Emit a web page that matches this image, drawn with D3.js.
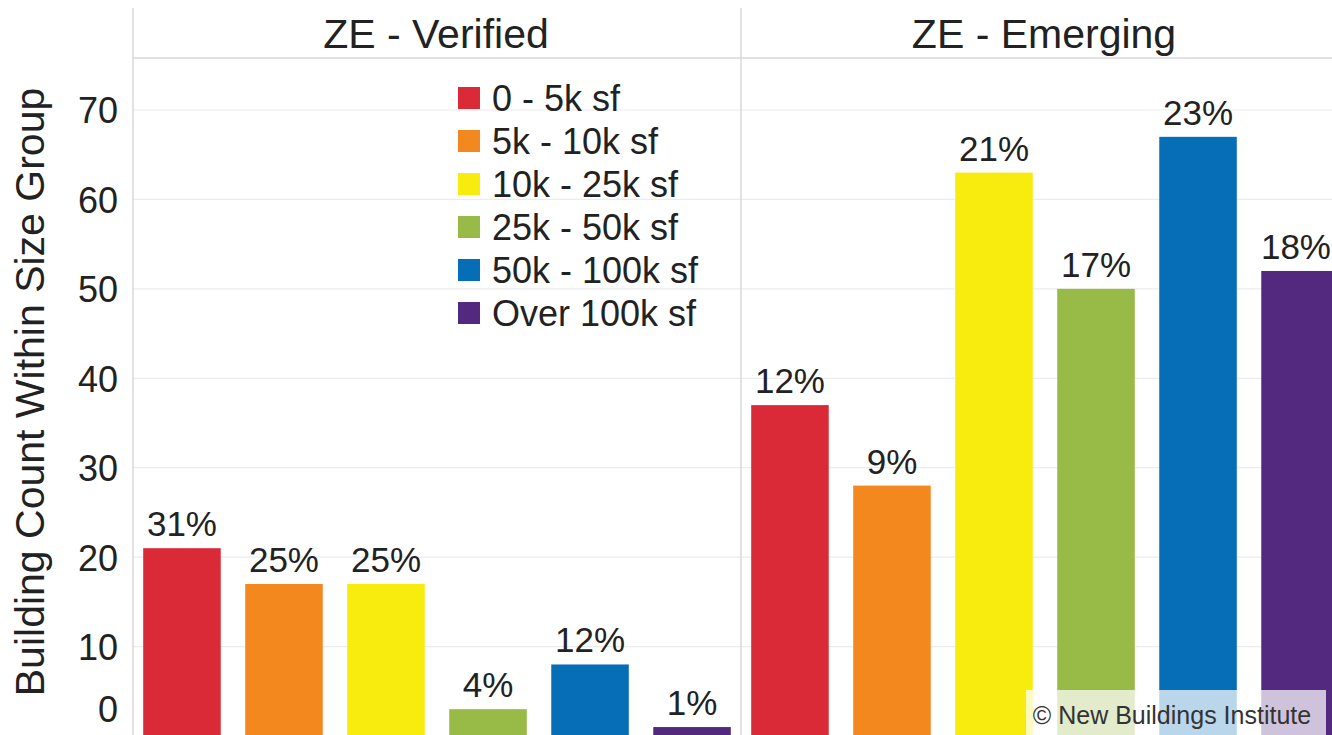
<!DOCTYPE html>
<html><head><meta charset="utf-8">
<script src="https://cdn.jsdelivr.net/npm/d3@7"></script>
<style>
body{margin:0;background:#fff;}
text{font-family:"Liberation Sans",Arial,Helvetica,sans-serif;}
</style></head>
<body><svg id="c" width="1332" height="735"></svg>
<script>
const panels = ["ZE - Verified", "ZE - Emerging"];
const categories = ["0 - 5k sf","5k - 10k sf","10k - 25k sf","25k - 50k sf","50k - 100k sf","Over 100k sf"];
const colors = ["#da2a37","#f3881f","#f8ec0e","#98ba47","#066eb7","#53287f"];
const verifiedValues = [21, 17, 17, 3, 8, 1];
const emergingValues = [37, 28, 63, 50, 67, 52];
const verifiedLabels = ["31%","25%","25%","4%","12%","1%"];
const emergingLabels = ["12%","9%","21%","17%","23%","18%"];
const yTicks = [0,10,20,30,40,50,60,70];

(function(){
const W = 1332;
const svg = d3.select("#c");
const leftX = 133, panelW = 608, headerY = 58, baseY = 736;
const y = d3.scaleLinear().domain([0,70]).range([baseY, 110]);
const px = d3.scaleBand().domain(panels).range([leftX, leftX + 2*panelW]);
const x = d3.scaleBand().domain(categories).range([0, panelW]).paddingInner(0.24).paddingOuter(0.1);
const color = d3.scaleOrdinal().domain(categories).range(colors);

// gridlines
svg.append("g").selectAll("line").data(yTicks.filter(d=>d>0)).join("line")
  .attr("x1", leftX).attr("x2", W)
  .attr("y1", d=>y(d)).attr("y2", d=>y(d))
  .attr("stroke","#ececec").attr("stroke-width",1.2);

// header line
svg.append("line").attr("x1",leftX).attr("x2",W).attr("y1",headerY).attr("y2",headerY)
  .attr("stroke","#d8d8d8").attr("stroke-width",1.5);
// vertical dividers
[leftX, leftX+panelW].forEach(xx=>{
  svg.append("line").attr("x1",xx).attr("x2",xx).attr("y1",8).attr("y2",735)
    .attr("stroke","#d8d8d8").attr("stroke-width",1.5);
});

// panel titles
svg.append("g").selectAll("text").data(panels).join("text")
  .attr("x", d=>px(d)+panelW/2 - 1).attr("y", 48)
  .attr("text-anchor","middle").attr("font-size",41).attr("fill","#222").text(d=>d);

// y axis
const yAxis = d3.axisLeft(y).tickValues(yTicks).tickSize(0).tickPadding(15);
const ga = svg.append("g").attr("transform",`translate(${leftX},0)`).call(yAxis);
ga.select(".domain").remove();
ga.selectAll("text").attr("font-size",36).attr("fill","#222")
  .attr("font-family","Liberation Sans, Arial, sans-serif")
  .attr("dy", d=> d===0 ? "-0.4em" : "0.36em");

svg.append("text").attr("transform","translate(44,392) rotate(-90)")
  .attr("text-anchor","middle").attr("font-size",41).attr("fill","#222")
  .text("Building Count Within Size Group");

// bars
const data = [
  {panel:panels[0], values:verifiedValues, labels:verifiedLabels},
  {panel:panels[1], values:emergingValues, labels:emergingLabels}
];
data.forEach(p=>{
  const ox = px(p.panel);
  const g = svg.append("g").attr("transform",`translate(${ox},0)`);
  const rows = categories.map((c,i)=>({c, v:p.values[i], l:p.labels[i]}));
  g.selectAll("rect").data(rows).join("rect")
    .attr("x", d=>x(d.c)).attr("width", x.bandwidth())
    .attr("y", d=>y(d.v)).attr("height", d=>y(0)-y(d.v))
    .attr("fill", d=>color(d.c));
  g.selectAll("text.lab").data(rows).join("text").attr("class","lab")
    .attr("x", d=>x(d.c)+x.bandwidth()/2).attr("y", d=>y(d.v)-12)
    .attr("text-anchor","middle").attr("font-size",35).attr("fill","#222")
    .text(d=>d.l)
    .each(function(){
      const bb = this.getBBox();
      if (ox + bb.x + bb.width > W - 1) {
        d3.select(this).attr("text-anchor","end").attr("x", W - 1 - ox);
      }
    });
});

// legend
const lg = svg.append("g").attr("transform","translate(458,98)");
const li = lg.selectAll("g").data(categories).join("g")
  .attr("transform",(d,i)=>`translate(0,${i*43})`);
li.append("rect").attr("x",0).attr("y",-11).attr("width",22).attr("height",22).attr("fill",d=>color(d));
li.append("text").attr("x",34).attr("y",0).attr("dy","0.36em")
  .attr("font-size",36).attr("fill","#222").text(d=>d);

// watermark
svg.append("rect").attr("x",1026).attr("y",690).attr("width",300).attr("height",46)
  .attr("fill","#fff").attr("fill-opacity",0.72);
svg.append("text").attr("x",1172).attr("y",724).attr("text-anchor","middle")
  .attr("font-size",25).attr("fill","#333").text("© New Buildings Institute");
})();
</script></body></html>
